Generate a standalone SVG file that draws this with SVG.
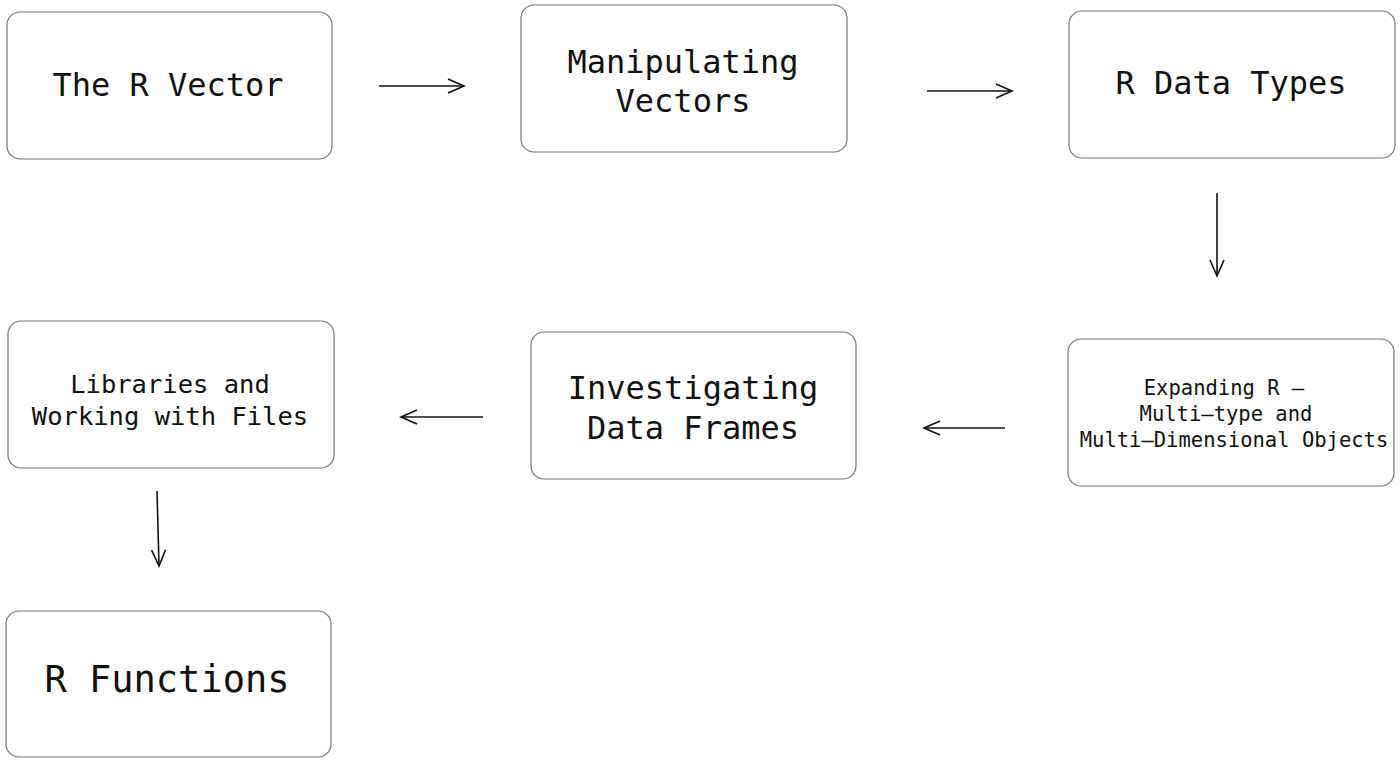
<svg xmlns="http://www.w3.org/2000/svg" width="1400" height="763" viewBox="0 0 1400 763">
<defs>
<style>
.box{fill:#fff;stroke:#777;stroke-width:1.2}
.t{font-family:"DejaVu Sans Mono","Liberation Mono",monospace;fill:#111;text-anchor:middle;dominant-baseline:central}
.c{stroke:#111;stroke-width:1.6;fill:none;marker-end:url(#ah)}
</style>
<marker id="ah" viewBox="0 0 20 20" refX="18" refY="10" markerWidth="20" markerHeight="20" markerUnits="userSpaceOnUse" orient="auto">
<path d="M2,3 L18,10 L2,17" fill="none" stroke="#111" stroke-width="1.6"/>
</marker>
</defs>
<rect width="1400" height="763" fill="#fff"/>
<g id="connectors">
<line class="c" x1="379" y1="86" x2="464" y2="86"/>
<line class="c" x1="927" y1="91" x2="1012" y2="91"/>
<line class="c" x1="1217" y1="193" x2="1217" y2="276"/>
<line class="c" x1="1005" y1="428" x2="924" y2="428"/>
<line class="c" x1="483" y1="417" x2="401" y2="417"/>
<line class="c" x1="157" y1="491" x2="159" y2="566"/>
</g>
<g id="n1"><rect class="box" x="7" y="12" width="325" height="147" rx="13"/><text class="t" x="168" y="85" font-size="32">The R Vector</text></g>
<g id="n2"><rect class="box" x="521" y="5" width="326" height="147" rx="13"/><text class="t" x="683" y="62" font-size="32">Manipulating</text><text class="t" x="683" y="101" font-size="32">Vectors</text></g>
<g id="n3"><rect class="box" x="1069" y="11" width="326" height="147" rx="13"/><text class="t" x="1231" y="83" font-size="32">R Data Types</text></g>
<g id="n4"><rect class="box" x="1068" y="339" width="326" height="147" rx="13"/><text class="t" x="1224" y="388" font-size="20.5">Expanding R –</text><text class="t" x="1226" y="414" font-size="20.5">Multi–type and</text><text class="t" x="1234" y="440" font-size="20.5">Multi–Dimensional Objects</text></g>
<g id="n5"><rect class="box" x="531" y="332" width="325" height="147" rx="13"/><text class="t" x="693" y="388" font-size="32">Investigating</text><text class="t" x="693" y="428" font-size="32">Data Frames</text></g>
<g id="n6"><rect class="box" x="8" y="321" width="326" height="147" rx="13"/><text class="t" x="170" y="384" font-size="25.5">Libraries and</text><text class="t" x="170" y="416" font-size="25.5">Working with Files</text></g>
<g id="n7"><rect class="box" x="6" y="611" width="325" height="146" rx="13"/><text class="t" x="167" y="679" font-size="37">R Functions</text></g>
</svg>
